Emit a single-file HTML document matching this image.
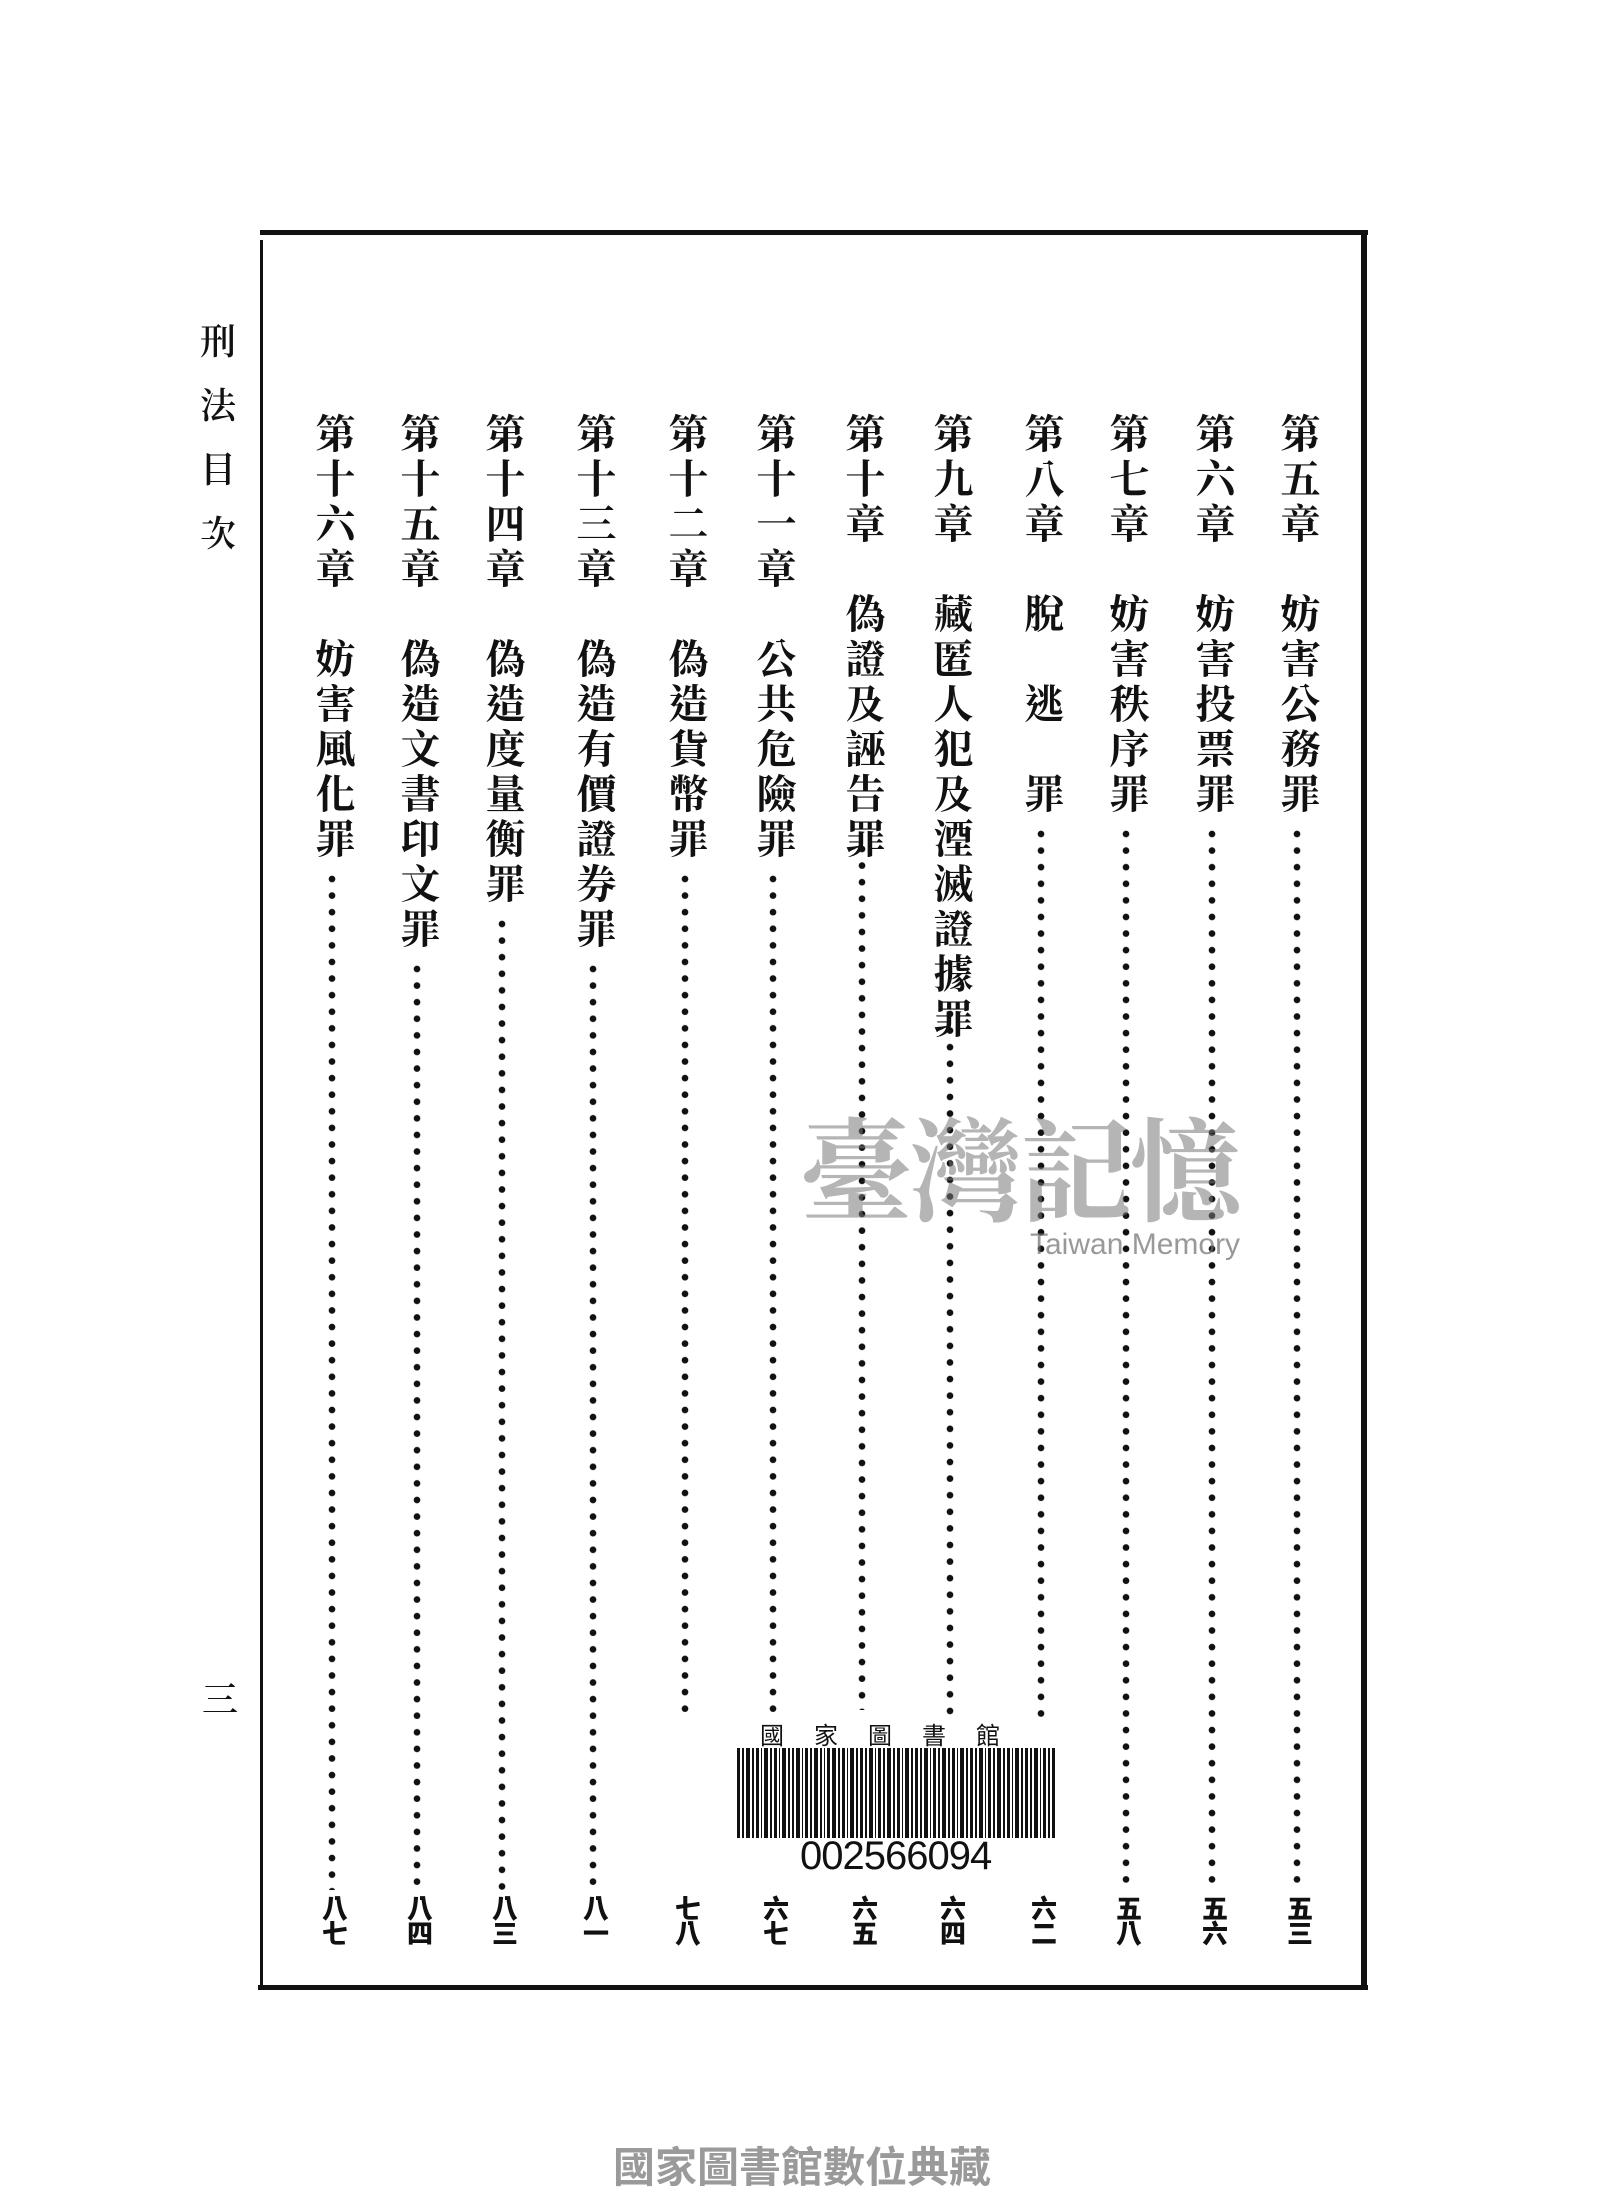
<!DOCTYPE html>
<html><head><meta charset="utf-8"><style>
html,body{margin:0;padding:0;background:#fff;}
body{width:1600px;height:2200px;position:relative;overflow:hidden;font-family:"Liberation Serif","Noto Serif CJK TC","Noto Serif CJK SC",serif;color:#111;}
.c{position:absolute;writing-mode:vertical-rl;font-size:40px;line-height:40px;letter-spacing:5px;font-weight:700;width:40px;white-space:nowrap;}
.d{position:absolute;width:8px;background:radial-gradient(circle at 4px 4px,#111 3px,transparent 3.6px) 0 0/8px 16.6px repeat-y;}
.n{position:absolute;width:40px;text-align:center;font-size:26px;line-height:25px;font-weight:900;font-family:"Noto Sans CJK TC","Noto Sans CJK SC",sans-serif;}
.ln{position:absolute;background:#111;}
</style></head><body>
<!-- frame -->
<div class="ln" style="left:260px;top:230px;width:1108px;height:5px"></div>
<div class="ln" style="left:260px;top:240px;width:3px;height:1750px"></div>
<div class="ln" style="left:1361px;top:232px;width:6px;height:1755px"></div>
<div class="ln" style="left:258px;top:1985px;width:1110px;height:5px"></div>

<!-- side title -->
<div style="position:absolute;left:200px;top:308px;width:36px;font-size:36px;line-height:64px;text-align:center;font-family:'Noto Serif CJK TC','Noto Serif CJK SC',serif;font-weight:600">刑<br>法<br>目<br>次</div>
<div style="position:absolute;left:202px;top:1672px;width:36px;font-size:36px;text-align:center;font-family:'Noto Serif CJK TC',serif;font-weight:600">三</div>

<!-- columns -->
<div class="c" style="left:1277px;top:413px">第五章　妨害公務罪</div>
<div class="c" style="left:1192px;top:413px">第六章　妨害投票罪</div>
<div class="c" style="left:1106px;top:413px">第七章　妨害秩序罪</div>
<div class="c" style="left:1021px;top:413px">第八章　脫　逃　罪</div>
<div class="c" style="left:930px;top:413px">第九章　藏匿人犯及湮滅證據罪</div>
<div class="c" style="left:842px;top:413px">第十章　偽證及誣告罪</div>
<div class="c" style="left:753px;top:413px">第十一章　公共危險罪</div>
<div class="c" style="left:665px;top:413px">第十二章　偽造貨幣罪</div>
<div class="c" style="left:573px;top:413px">第十三章　偽造有價證券罪</div>
<div class="c" style="left:482px;top:413px">第十四章　偽造度量衡罪</div>
<div class="c" style="left:397px;top:413px">第十五章　偽造文書印文罪</div>
<div class="c" style="left:312px;top:413px">第十六章　妨害風化罪</div>

<!-- dot leaders -->
<div class="d" style="left:1293px;top:830px;height:1060px"></div>
<div class="d" style="left:1208px;top:830px;height:1060px"></div>
<div class="d" style="left:1122px;top:830px;height:1060px"></div>
<div class="d" style="left:1037px;top:830px;height:890px"></div>
<div class="d" style="left:946px;top:1010px;height:710px"></div>
<div class="d" style="left:858px;top:845px;height:865px"></div>
<div class="d" style="left:769px;top:875px;height:845px"></div>
<div class="d" style="left:681px;top:875px;height:845px"></div>
<div class="d" style="left:589px;top:965px;height:925px"></div>
<div class="d" style="left:498px;top:920px;height:970px"></div>
<div class="d" style="left:413px;top:965px;height:925px"></div>
<div class="d" style="left:328px;top:875px;height:1015px"></div>

<!-- page numbers -->
<div class="n" style="left:1280px;top:1895px">五<br>三</div>
<div class="n" style="left:1195px;top:1895px">五<br>六</div>
<div class="n" style="left:1109px;top:1895px">五<br>八</div>
<div class="n" style="left:1024px;top:1895px">六<br>二</div>
<div class="n" style="left:933px;top:1895px">六<br>四</div>
<div class="n" style="left:845px;top:1895px">六<br>五</div>
<div class="n" style="left:756px;top:1895px">六<br>七</div>
<div class="n" style="left:668px;top:1895px">七<br>八</div>
<div class="n" style="left:576px;top:1895px">八<br>一</div>
<div class="n" style="left:485px;top:1895px">八<br>三</div>
<div class="n" style="left:400px;top:1895px">八<br>四</div>
<div class="n" style="left:315px;top:1895px">八<br>七</div>

<!-- watermark -->
<div style="position:absolute;left:800px;top:1105px;font-size:112px;line-height:120px;color:rgba(120,120,120,0.55);font-family:'Noto Serif CJK TC','Noto Serif CJK SC',serif;font-weight:700;letter-spacing:-2px;white-space:nowrap">臺灣記憶</div>
<div style="position:absolute;left:1030px;top:1228px;font-size:30px;color:rgba(110,110,110,0.7);font-family:'Liberation Sans',sans-serif;white-space:nowrap">Taiwan Memory</div>

<!-- barcode label -->
<div style="position:absolute;left:728px;top:1718px;width:335px;height:170px;background:#fff"></div>
<div style="position:absolute;left:760px;top:1716px;width:260px;font-size:24px;letter-spacing:30px;font-family:'Noto Sans CJK TC',sans-serif;white-space:nowrap">國家圖書館</div>
<svg style="position:absolute;left:737px;top:1748px" width="318" height="90">
<g fill="#111">
<rect x="0" y="0" width="3" height="90"/><rect x="5" y="0" width="2" height="90"/><rect x="9" y="0" width="4" height="90"/><rect x="15" y="0" width="2" height="90"/><rect x="19" y="0" width="3" height="90"/><rect x="24" y="0" width="1" height="90"/><rect x="27" y="0" width="4" height="90"/><rect x="33" y="0" width="2" height="90"/><rect x="37" y="0" width="3" height="90"/><rect x="42" y="0" width="1" height="90"/><rect x="45" y="0" width="4" height="90"/><rect x="51" y="0" width="2" height="90"/><rect x="55" y="0" width="2" height="90"/><rect x="59" y="0" width="4" height="90"/><rect x="65" y="0" width="1" height="90"/><rect x="68" y="0" width="3" height="90"/><rect x="73" y="0" width="2" height="90"/><rect x="77" y="0" width="4" height="90"/><rect x="83" y="0" width="2" height="90"/><rect x="87" y="0" width="1" height="90"/><rect x="90" y="0" width="3" height="90"/><rect x="95" y="0" width="4" height="90"/><rect x="101" y="0" width="2" height="90"/><rect x="105" y="0" width="3" height="90"/><rect x="110" y="0" width="1" height="90"/><rect x="113" y="0" width="4" height="90"/><rect x="119" y="0" width="2" height="90"/><rect x="123" y="0" width="3" height="90"/><rect x="128" y="0" width="2" height="90"/><rect x="132" y="0" width="4" height="90"/><rect x="138" y="0" width="1" height="90"/><rect x="141" y="0" width="3" height="90"/><rect x="146" y="0" width="2" height="90"/><rect x="150" y="0" width="4" height="90"/><rect x="156" y="0" width="2" height="90"/><rect x="160" y="0" width="3" height="90"/><rect x="165" y="0" width="1" height="90"/><rect x="168" y="0" width="4" height="90"/><rect x="174" y="0" width="2" height="90"/><rect x="178" y="0" width="3" height="90"/><rect x="183" y="0" width="2" height="90"/><rect x="187" y="0" width="4" height="90"/><rect x="193" y="0" width="1" height="90"/><rect x="196" y="0" width="3" height="90"/><rect x="201" y="0" width="2" height="90"/><rect x="205" y="0" width="4" height="90"/><rect x="211" y="0" width="2" height="90"/><rect x="215" y="0" width="3" height="90"/><rect x="220" y="0" width="1" height="90"/><rect x="223" y="0" width="4" height="90"/><rect x="229" y="0" width="2" height="90"/><rect x="233" y="0" width="3" height="90"/><rect x="238" y="0" width="2" height="90"/><rect x="242" y="0" width="4" height="90"/><rect x="248" y="0" width="1" height="90"/><rect x="251" y="0" width="3" height="90"/><rect x="256" y="0" width="2" height="90"/><rect x="260" y="0" width="4" height="90"/><rect x="266" y="0" width="2" height="90"/><rect x="270" y="0" width="3" height="90"/><rect x="275" y="0" width="1" height="90"/><rect x="278" y="0" width="4" height="90"/><rect x="284" y="0" width="2" height="90"/><rect x="288" y="0" width="3" height="90"/><rect x="293" y="0" width="2" height="90"/><rect x="297" y="0" width="4" height="90"/><rect x="303" y="0" width="1" height="90"/><rect x="306" y="0" width="3" height="90"/><rect x="311" y="0" width="2" height="90"/><rect x="315" y="0" width="3" height="90"/>
</g></svg>
<div style="position:absolute;left:800px;top:1834px;font-size:40px;line-height:44px;font-family:'Liberation Sans',sans-serif;letter-spacing:-1px">002566094</div>

<!-- footer -->
<div style="position:absolute;left:613px;top:2140px;font-size:42px;line-height:50px;color:#9a9a9a;font-weight:700;font-family:'Noto Sans CJK TC','Noto Sans CJK SC',sans-serif;white-space:nowrap">國家圖書館數位典藏</div>
</body></html>
